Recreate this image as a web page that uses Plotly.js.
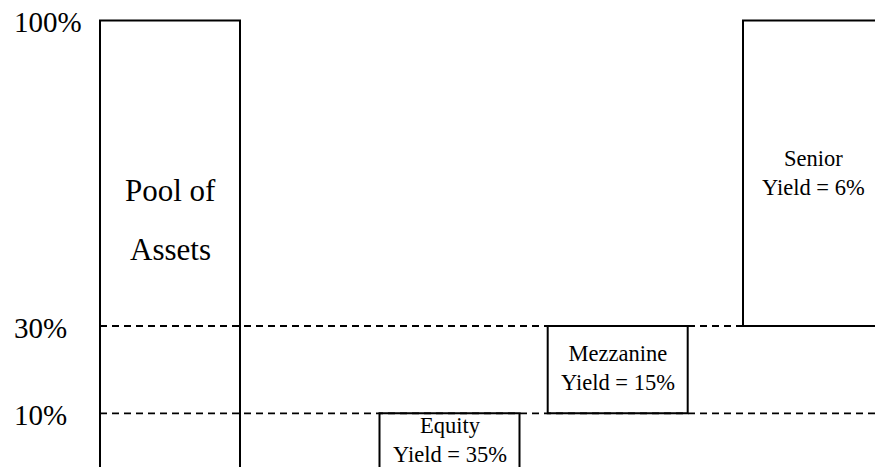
<!DOCTYPE html>
<html>
<head>
<meta charset="utf-8">
<script src="https://cdn.plot.ly/plotly-3.0.1.min.js"></script>
<style>html,body{margin:0;padding:0;background:#fff}#chart{width:875px;height:467px}</style>
</head>
<body>
<div id="chart"></div>
<script>
// ---- data ----
const tranches = ['Pool of Assets', 'Equity', 'Mezzanine', 'Senior'];
const lowerPct = [0, 0, 10, 30];
const upperPct = [100, 10, 30, 100];
const yieldPct = [null, 35, 15, 6];
const tickVals = [100, 30, 10];
const tickText = ['100%', '30%', '10%'];
const boundaryPct = [30, 10];

// ---- layout helpers (positions / style) ----
const xCenter = [170, 449.5, 617.7, 813];
const boxWidth = 140;
const yMin = -2.29, yMax = 104.67;
const serif = '"Liberation Serif", "Times New Roman", Times, serif';
const marginL = 90, plotW = 875 - marginL;

const bar = {
  type: 'bar',
  x: xCenter,
  base: lowerPct.map(v => v === 0 ? yMin - 5 : v),
  y: upperPct.map((u, i) => u - (lowerPct[i] === 0 ? yMin - 5 : lowerPct[i])),
  width: boxWidth,
  marker: {color: 'rgba(0,0,0,0)', line: {color: '#000', width: 2}},
  hoverinfo: 'skip',
  cliponaxis: true
};

const shapes = boundaryPct.map(v => ({
  type: 'line', xref: 'x', yref: 'y', x0: 100, x1: 880, y0: v, y1: v,
  line: {color: '#000', width: 1.8, dash: '7px,5px'}, layer: 'below'
}));

const annotations = [];
// tick labels (left aligned, in the left margin)
tickVals.forEach((v, i) => annotations.push({
  x: (12 - marginL) / plotW, y: v, xref: 'paper', yref: 'y', xanchor: 'left', yanchor: 'middle',
  text: tickText[i], showarrow: false, yshift: -2,
  font: {family: serif, size: 29, color: '#000'}
}));
// pool text
const poolWords = ['Pool of', 'Assets'];
const poolY = [61.0, 47.6];
poolWords.forEach((w, i) => annotations.push({
  x: xCenter[0], y: poolY[i], xref: 'x', yref: 'y', text: w, showarrow: false,
  xanchor: 'center', yanchor: 'middle', font: {family: serif, size: 31, color: '#000'}
}));
// tranche labels
const labelY = [null, 4.0, 20.3, 65.0];
for (let i = 1; i < tranches.length; i++) {
  annotations.push({
    x: xCenter[i], y: labelY[i], xref: 'x', yref: 'y', showarrow: false,
    xanchor: 'center', yanchor: 'middle',
    text: tranches[i] + '<br>Yield = ' + yieldPct[i] + '%',
    font: {family: serif, size: 22.5, color: '#000'}
  });
}

const layout = {
  width: 875, height: 467,
  margin: {l: marginL, r: 0, t: 0, b: 0, pad: 0},
  paper_bgcolor: '#fff', plot_bgcolor: '#fff',
  showlegend: false,
  xaxis: {range: [marginL, 875], visible: false, fixedrange: true},
  yaxis: {range: [yMin, yMax], visible: false, fixedrange: true},
  shapes: shapes,
  annotations: annotations
};

Plotly.newPlot('chart', [bar], layout, {displayModeBar: false, staticPlot: true});
</script>
</body>
</html>
